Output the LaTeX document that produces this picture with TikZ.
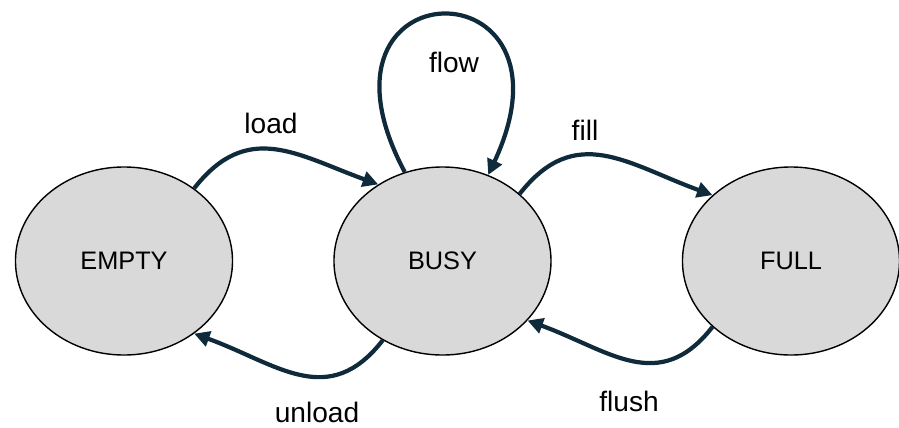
\documentclass[tikz,border=0pt]{standalone}
\usepackage{fontspec}
\setmainfont{Liberation Sans}
\usetikzlibrary{arrows.meta}
\usetikzlibrary{shapes.geometric}
\usetikzlibrary{positioning}
\definecolor{edgeblue}{HTML}{0E2A3B}
\definecolor{stategray}{HTML}{D9D9D9}
\tikzset{>={Triangle[length=11pt,width=11pt]}}
\tikzset{
    state/.style = {ellipse, draw, line width=1pt, fill=stategray, minimum width=5.425cm, minimum height=4.7cm, font=\fontsize{18}{22}\selectfont},
    trans/.style = {->, draw=edgeblue, line width=3pt},
    edgelabel/.style = {font=\fontsize{20}{24}\selectfont},
}
\begin{document}
\begin{tikzpicture}[x=0.025cm,y=0.025cm]
    \useasboundingbox (0,0) rectangle (899,-427);
    % states
    \node[state] (empty) at (124,-261) {EMPTY};
    \node[state] (busy) [right=2.5cm of empty] {BUSY};
    \node[state] (full) [right=3.25cm of busy] {FULL};
    % transitions
    \draw[trans] (empty.46) to[out=52,in=160,looseness=1.2] (busy.130);
    \draw[trans] (busy.113) to[out=118,in=65,distance=5.9cm] (busy.62);
    \draw[trans] (busy.41) to[out=52,in=160,looseness=1.2] (full.140);
    \draw[trans] (busy.233) to[out=232,in=340,looseness=1.2] (empty.314);
    \draw[trans] (full.220) to[out=232,in=340,looseness=1.2] (busy.325);
    % labels
    \node[edgelabel] (loadlabel) at (271,-123) {load};
    \node[edgelabel] (flowlabel) at (454,-62) {flow};
    \node[edgelabel] (filllabel) at (585,-130) {fill};
    \node[edgelabel] (unloadlabel) at (317,-412) {unload};
    \node[edgelabel] (flushlabel) at (629,-401) {flush};
\end{tikzpicture}
\end{document}
